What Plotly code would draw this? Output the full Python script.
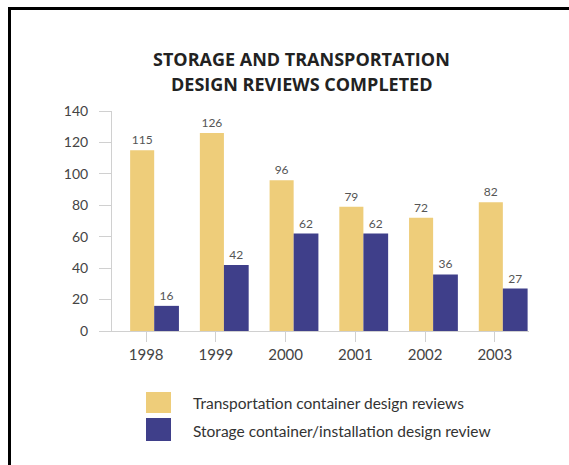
import plotly.graph_objects as go

years = ["1998", "1999", "2000", "2001", "2002", "2003"]
transport = [115, 126, 96, 79, 72, 82]
storage = [16, 42, 62, 62, 36, 27]
series_names = ["Transportation container design reviews",
                "Storage container/installation design review"]
colors = ["#EECD7A", "#3F3F8A"]
title_lines = ["STORAGE AND TRANSPORTATION", "DESIGN REVIEWS COMPLETED"]

W, H = 569, 465
L, R, T, B = 112, 529, 111, 331

def px(x):
    return (x - L) / (R - L)

def py(y):
    return (B - y) / (B - T)

FONT = "Lato"
fig = go.Figure()
fig.add_trace(go.Bar(x=years, y=transport, name=series_names[0],
                     marker=dict(color=colors[0], line=dict(width=0)),
                     offset=-0.23, width=0.345,
                     text=transport, textposition="outside",
                     textfont=dict(size=12, color="#555", family=FONT),
                     cliponaxis=False))
fig.add_trace(go.Bar(x=years, y=storage, name=series_names[1],
                     marker=dict(color=colors[1], line=dict(width=0)),
                     offset=0.115, width=0.355,
                     text=storage, textposition="outside",
                     textfont=dict(size=12, color="#555", family=FONT),
                     cliponaxis=False))

shapes = [
    dict(type="line", xref="paper", yref="paper", x0=px(8), x1=px(570),
         y0=py(8.5), y1=py(8.5), line=dict(color="black", width=3)),
    dict(type="line", xref="paper", yref="paper", x0=px(9.5), x1=px(9.5),
         y0=py(8), y1=py(466), line=dict(color="black", width=3)),
    dict(type="rect", xref="paper", yref="paper", x0=px(146), x1=px(171),
         y0=py(392), y1=py(413), fillcolor=colors[0], line=dict(width=0)),
    dict(type="rect", xref="paper", yref="paper", x0=px(146), x1=px(171),
         y0=py(418), y1=py(441), fillcolor=colors[1], line=dict(width=0)),
]
annotations = [
    dict(text=title_lines[0], xref="paper", yref="paper", x=px(301), y=py(59),
         showarrow=False, xanchor="center", yanchor="middle",
         font=dict(size=18, color="#222", family="Open Sans", weight="bold")),
    dict(text=title_lines[1], xref="paper", yref="paper", x=px(301), y=py(84),
         showarrow=False, xanchor="center", yanchor="middle",
         font=dict(size=18, color="#222", family="Open Sans", weight="bold")),
    dict(text=series_names[0], xref="paper", yref="paper", x=px(191), y=py(403),
         showarrow=False, xanchor="left", yanchor="middle",
         font=dict(size=15.5, color="#333", family=FONT)),
    dict(text=series_names[1], xref="paper", yref="paper", x=px(191), y=py(431),
         showarrow=False, xanchor="left", yanchor="middle",
         font=dict(size=15.5, color="#333", family=FONT)),
]

fig.update_layout(
    width=W, height=H,
    margin=dict(l=L, r=W - R, t=T, b=H - B),
    paper_bgcolor="white", plot_bgcolor="white",
    barmode="overlay", showlegend=False,
    shapes=shapes, annotations=annotations,
    xaxis=dict(type="category", range=[-0.49, 5.49], showgrid=False,
               showline=True, linecolor="#d0d0d0", linewidth=1,
               ticks="outside", ticklen=10, tickcolor="#d0d0d0",
               tickfont=dict(size=15, color="#444", family=FONT),
               zeroline=False),
    yaxis=dict(range=[0, 140], dtick=20, showgrid=False, zeroline=False,
               showline=True, linecolor="#d0d0d0", linewidth=1,
               ticks="outside", ticklen=12, tickcolor="#d0d0d0",
               ticklabelstandoff=8,
               tickfont=dict(size=14, color="#444", family=FONT)),
)

fig.write_html("out.html", config={"displayModeBar": False},
               post_script="document.body.style.margin='0';document.body.style.overflow='hidden';")
